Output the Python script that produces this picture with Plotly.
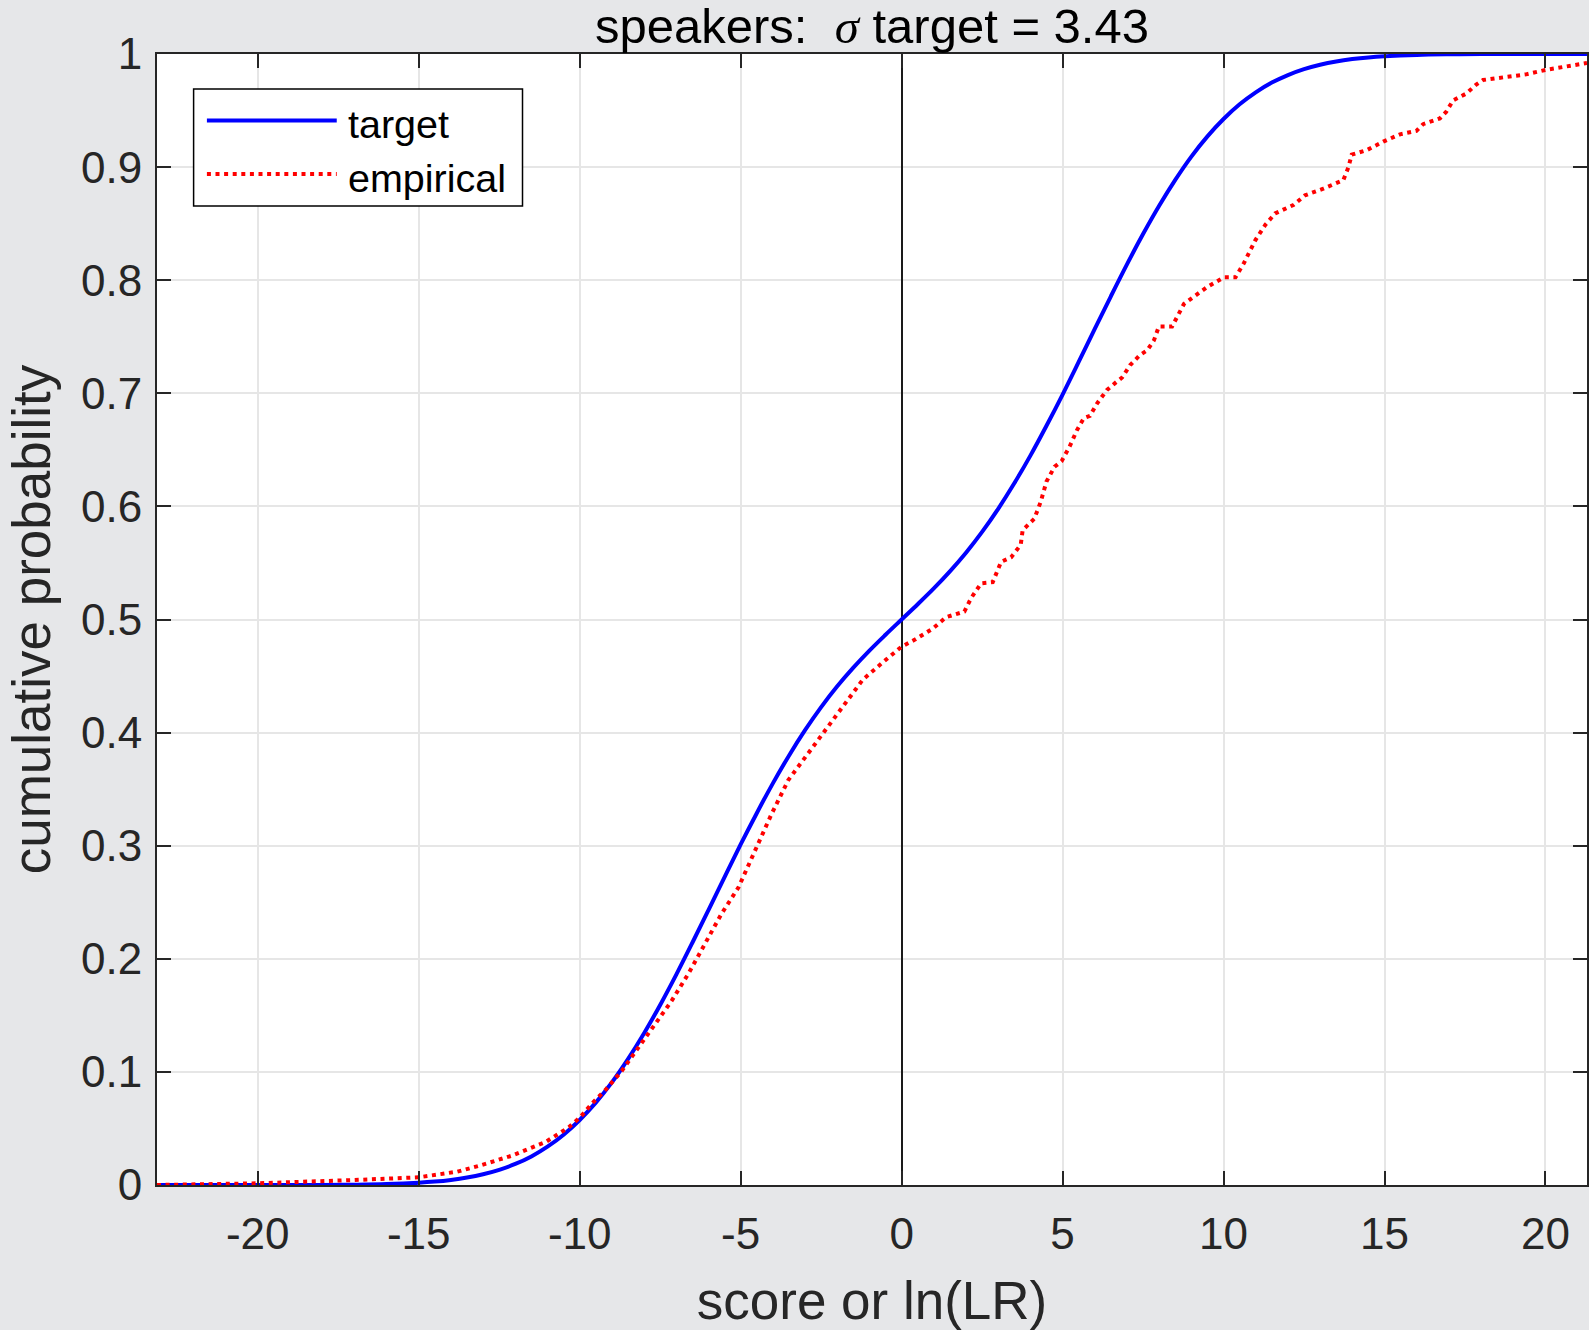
import plotly.graph_objects as go

# Target CDF (smooth) read along the score axis
target_x = [-23.13, -20, -18, -17, -16, -15, -14.5, -14, -13.5, -13, -12.5, -12, -11.5,
            -11, -10.5, -10, -9.5, -9, -8.5, -8, -7.5, -7, -6.5, -6, -5.5, -5, -4.5,
            -4, -3.5, -3, -2.5, -2, -1.5, -1, -0.5, 0, 0.5, 1, 1.5, 2, 2.5, 3, 3.5,
            4, 4.5, 5, 5.5, 6, 6.5, 7, 7.5, 8, 8.5, 9, 9.5, 10, 10.5, 11, 11.5, 12,
            12.5, 13, 13.5, 14, 14.5, 15, 16, 17, 18, 20, 21.29]
target_y = [0.0, 0.0, 0.0001, 0.0003, 0.0008, 0.002, 0.003, 0.0045, 0.0066, 0.0095,
            0.0134, 0.0186, 0.0253, 0.0339, 0.0445, 0.0575, 0.0728, 0.0907, 0.1113,
            0.1342, 0.1592, 0.186, 0.2142, 0.2431, 0.2723, 0.3011, 0.3287, 0.3551,
            0.3796, 0.4021, 0.4225, 0.4409, 0.4574, 0.4725, 0.4865, 0.5, 0.5135,
            0.5275, 0.5426, 0.5591, 0.5775, 0.5979, 0.6204, 0.6449, 0.6713, 0.6989,
            0.7277, 0.7569, 0.7858, 0.814, 0.8408, 0.8658, 0.8887, 0.9093, 0.9272,
            0.9425, 0.9555, 0.9661, 0.9747, 0.9814, 0.9866, 0.9905, 0.9934, 0.9955,
            0.997, 0.998, 0.9992, 0.9997, 0.9999, 1.0, 1.0]

# Empirical CDF of the speaker scores
empirical_x = [-23.13, -20.0, -17.0, -15.0, -13.8, -13.1, -12.1, -11.06, -10.34, -9.98,
               -9.62, -9.2, -8.69, -8.17, -7.65, -7.14, -6.62, -6.1, -5.59, -5.07,
               -4.55, -4.04, -3.52, -3.0, -2.39, -1.77, -1.2, -0.63, 0.0, 0.4, 0.97,
               1.38, 1.95, 2.16, 2.47, 2.83, 3.09, 3.4, 3.7, 3.76, 4.12, 4.32, 4.5,
               4.75, 4.97, 5.22, 5.44, 5.66, 5.85, 6.07, 6.38, 6.63, 6.85, 7.1, 7.41,
               7.63, 7.84, 7.99, 8.4, 8.77, 9.08, 9.49, 10.01, 10.37, 10.63, 10.99,
               11.3, 11.6, 12.17, 12.53, 13.1, 13.72, 13.88, 13.98, 14.45, 14.96,
               15.48, 15.99, 16.2, 16.72, 16.92, 17.13, 17.54, 17.85, 18.06, 18.57,
               19.4, 20.02, 20.64, 21.29]
empirical_y = [0.0, 0.0015, 0.0044, 0.0068, 0.0118, 0.0172, 0.026, 0.038, 0.051, 0.06,
               0.072, 0.084, 0.101, 0.122, 0.143, 0.163, 0.187, 0.213, 0.24, 0.263,
               0.296, 0.328, 0.358, 0.378, 0.402, 0.426, 0.447, 0.461, 0.476, 0.482,
               0.492, 0.502, 0.507, 0.519, 0.532, 0.533, 0.551, 0.555, 0.566, 0.579,
               0.589, 0.604, 0.622, 0.635, 0.64, 0.653, 0.667, 0.678, 0.68, 0.691,
               0.703, 0.709, 0.714, 0.725, 0.734, 0.738, 0.747, 0.759, 0.759, 0.779,
               0.785, 0.794, 0.8025, 0.8025, 0.815, 0.8355, 0.849, 0.859, 0.8665,
               0.875, 0.881, 0.8885, 0.9, 0.911, 0.915, 0.9225, 0.929, 0.932, 0.938,
               0.943, 0.949, 0.959, 0.965, 0.973, 0.977, 0.979, 0.982, 0.986, 0.989,
               0.992]

x_ticks = [-20, -15, -10, -5, 0, 5, 10, 15, 20]
x_tick_labels = ["-20", "-15", "-10", "-5", "0", "5", "10", "15", "20"]
y_ticks = [0, 0.1, 0.2, 0.3, 0.4, 0.5, 0.6, 0.7, 0.8, 0.9, 1]
y_tick_labels = ["0", "0.1", "0.2", "0.3", "0.4", "0.5", "0.6", "0.7", "0.8", "0.9", "1"]

FONT = "Liberation Sans, Arial, Helvetica, sans-serif"
AXIS_GREY = "#262626"
RED_DOTS = "4px,4.6px"

fig = go.Figure()
fig.add_trace(go.Scatter(x=target_x, y=target_y, mode="lines", name="target",
                         line=dict(color="#0000FF", width=4, shape="spline", smoothing=1.0),
                         showlegend=False))
fig.add_trace(go.Scatter(x=empirical_x, y=empirical_y, mode="lines", name="empirical",
                         line=dict(color="#FF0000", width=4, dash=RED_DOTS),
                         showlegend=False))

axis_common = dict(
    showline=True, linecolor=AXIS_GREY, linewidth=2,
    mirror="ticks", ticks="inside", ticklen=14, tickwidth=2, tickcolor=AXIS_GREY,
    showgrid=True, gridcolor="#E6E6E6", gridwidth=2,
    tickfont=dict(family=FONT, size=44, color=AXIS_GREY),
)

fig.update_xaxes(
    range=[-23.13, 21.29], tickvals=x_ticks, ticktext=x_tick_labels,
    zeroline=True, zerolinecolor="#1A1A1A", zerolinewidth=2,
    title=dict(text="score or ln(LR)", font=dict(family=FONT, size=53, color=AXIS_GREY),
               standoff=25),
    ticklabelstandoff=9,
    **axis_common,
)
fig.update_yaxes(
    range=[0, 1], tickvals=y_ticks, ticktext=y_tick_labels, zeroline=False,
    title=dict(text="cumulative probability", font=dict(family=FONT, size=53, color=AXIS_GREY),
               standoff=13),
    ticklabelstandoff=4,
    **axis_common,
)

# Legend box drawn in paper coordinates
legend_shapes = [
    dict(type="rect", xref="paper", yref="paper", x0=0.0256, x1=0.2556, y0=0.8655, y1=0.969,
         line=dict(color="#000000", width=1.5), fillcolor="white", layer="above"),
    dict(type="line", xref="paper", yref="paper", x0=0.0349, x1=0.1257, y0=0.9411, y1=0.9411,
         line=dict(color="#0000FF", width=4), layer="above"),
    dict(type="line", xref="paper", yref="paper", x0=0.0349, x1=0.1257, y0=0.8939, y1=0.8939,
         line=dict(color="#FF0000", width=4, dash=RED_DOTS), layer="above"),
]
legend_labels = [
    dict(text="target", xref="paper", yref="paper", x=0.1325, y=0.9385, xanchor="left",
         yanchor="middle", showarrow=False, font=dict(family=FONT, size=39.5, color="black")),
    dict(text="empirical", xref="paper", yref="paper", x=0.1325, y=0.8905, xanchor="left",
         yanchor="middle", showarrow=False, font=dict(family=FONT, size=39.5, color="black")),
]

fig.update_layout(
    width=1589, height=1330,
    margin=dict(l=157, r=0, t=54, b=145),
    paper_bgcolor="#E6E7E9", plot_bgcolor="white",
    title=dict(
        text="speakers:\u00a0 <i><span style='font-family:Liberation Serif, Times New Roman, serif'>σ</span></i> target = 3.43",
        x=0.5, xref="paper", xanchor="center",
        y=1 - 26 / 1330, yref="container", yanchor="middle",
        font=dict(family=FONT, size=49, color="black"),
    ),
    shapes=legend_shapes,
    annotations=legend_labels,
)

fig.write_html("out.html")
